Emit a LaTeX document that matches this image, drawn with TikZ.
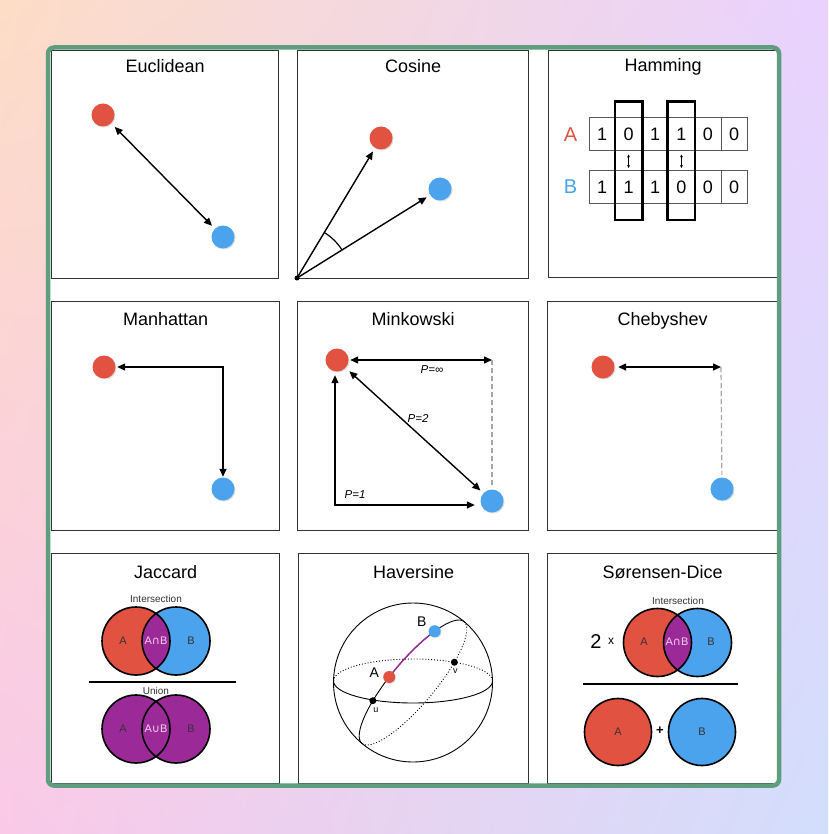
\documentclass[tikz,border=0pt]{standalone}
\usepackage{fontspec}
\setmainfont{Liberation Sans}
\newfontfamily\symfont{DejaVu Sans}
\usetikzlibrary{arrows.meta,positioning,calc,fit,shadows,shadings}
\definecolor{ptred}{HTML}{E25241}
\definecolor{ptblue}{HTML}{4AA3EC}
\definecolor{ptpurple}{HTML}{9B2A98}
\definecolor{ptpink}{HTML}{F6D2F2}
\definecolor{ptgreen}{HTML}{5E9E7E}
\definecolor{bgtl}{HTML}{FDDDC6}
\definecolor{bgtr}{HTML}{E9D2FE}
\definecolor{bgbl}{HTML}{FAC9E8}
\definecolor{bgbr}{HTML}{D2DEFC}
\newcommand{\ptsize}[1]{\fontsize{#1}{#1}\selectfont}
\tikzset{
  panelbox/.style={draw=black!80, line width=1.2pt, fill=white, anchor=north west, inner sep=0pt},
  ttl/.style={font=\ptsize{18}, anchor=base},
  reddot/.style={circle, fill=ptred, minimum size=23pt, inner sep=0pt,
                 drop shadow={shadow xshift=1pt, shadow yshift=-1pt, opacity=.25}},
  bluedot/.style={reddot, fill=ptblue},
  arr/.style={{Triangle[length=8pt,width=7pt]}-{Triangle[length=8pt,width=7pt]}, line width=1.4pt},
  onearr/.style={-{Triangle[length=8pt,width=7pt]}, line width=1.4pt},
  dashln/.style={draw=black!35, line width=1.2pt, dash pattern=on 5pt off 3pt},
  plbl/.style={font=\ptsize{11.5}\itshape},
  cellbox/.style={draw=black!65, line width=1pt, minimum width=26.4pt, minimum height=33pt,
                  inner sep=0pt, font=\ptsize{18}},
  colbox/.style={draw, line width=2.6pt, inner xsep=0pt, inner ysep=16pt},
  tinyarr/.style={{Stealth[length=3pt,width=3pt]}-{Stealth[length=3pt,width=3pt]}, line width=.7pt},
  vring/.style={draw=black, line width=1.6pt},
  vtxt/.style={font=\ptsize{11}, text=black!80},
  vmid/.style={font=\ptsize{11}, text=ptpink},
  vcap/.style={font=\ptsize{10}, text=black!80},
  sph/.style={line width=.9pt},
  hdot/.style={circle, minimum size=12pt, inner sep=0pt,
               drop shadow={shadow xshift=.8pt, shadow yshift=-.8pt, opacity=.25}},
  ptdot/.style={circle, fill=black, minimum size=7pt, inner sep=0pt}}

\begin{document}
\begin{tikzpicture}[x=1pt,y=-1pt]
  \useasboundingbox (0,0) rectangle (828,834);
  \shade[upper left=bgtl, upper right=bgtr, lower left=bgbl, lower right=bgbr] (0,0) rectangle (828,834);
  \fill[white, rounded corners=6pt] (48,47.5) rectangle (779,785.5);

  % panels
  \node[panelbox, minimum width=227pt, minimum height=228pt] (euc)  at (51,50) {};
  \node[panelbox, minimum width=231pt, minimum height=228pt] (cos)  at (297,50) {};
  \node[panelbox, minimum width=229pt, minimum height=227pt] (ham)  at (548,50) {};
  \node[panelbox, minimum width=228pt, minimum height=229pt] (man)  at (51,301) {};
  \node[panelbox, minimum width=231pt, minimum height=229pt] (mink) at (297,301) {};
  \node[panelbox, minimum width=230pt, minimum height=229pt] (cheb) at (547,301) {};
  \node[panelbox, minimum width=228pt, minimum height=230pt] (jac)  at (51,553) {};
  \node[panelbox, minimum width=230pt, minimum height=230pt] (hav)  at (298,553) {};
  \node[panelbox, minimum width=230pt, minimum height=230pt] (dice) at (547,553) {};

  \node[ttl] (euct)  at ($(euc.north)+(0,23)$)  {Euclidean};
  \node[ttl] (cost)  at ($(cos.north)+(0,23)$)  {Cosine};
  \node[ttl] (hamt)  at ($(ham.north)+(0,22)$)  {Hamming};
  \node[ttl] (mant)  at ($(man.north)+(0,24)$)  {Manhattan};
  \node[ttl] (minkt) at ($(mink.north)+(0,24)$) {Minkowski};
  \node[ttl] (chebt) at ($(cheb.north)+(0,24)$) {Chebyshev};
  \node[ttl] (jact)  at ($(jac.north)+(0,25)$)  {Jaccard};
  \node[ttl] (havt)  at ($(hav.north)+(0,25)$)  {Haversine};
  \node[ttl] (dicet) at ($(dice.north)+(0,25)$) {Sørensen-Dice};

  % Euclidean
  \node[reddot] (e1) at (103,115) {};
  \node[bluedot] (e2) at (223,237) {};
  \draw[arr, shorten <=5pt, shorten >=4pt] (e1) -- (e2);

  % Cosine
  \coordinate (o) at (297,278);
  \node[reddot] (c1) at (381,138) {};
  \node[bluedot] (c2) at (440,189) {};
  \draw[onearr, shorten >=4pt] (o) -- (c1);
  \draw[onearr, shorten >=4pt] (o) -- (c2);
  \draw[line width=1.2pt] ($(o)+(-32:53)$) arc[start angle=-32, end angle=-59, radius=53];
  \fill (o) circle (2.5);

  % Hamming
  \foreach \v [count=\i] in {1,0,1,1,0,0}
    \node[cellbox] (ha\i) at ({589+26.4*(\i-0.5)},134.5) {\v};
  \foreach \v [count=\i] in {1,1,1,0,0,0}
    \node[cellbox] (hb\i) at ({589+26.4*(\i-0.5)},187) {\v};
  \node[font=\ptsize{20}, text=ptred, inner sep=1pt, left=10pt of ha1] (hla) {A};
  \node[font=\ptsize{20}, text=ptblue, inner sep=1pt, left=10pt of hb1] (hlb) {B};
  \node[colbox, fit=(ha2)(hb2)] (hc2) {};
  \node[colbox, fit=(ha4)(hb4)] (hc4) {};
  \draw[tinyarr, shorten <=3pt, shorten >=2pt] (ha2) -- (hb2);
  \draw[tinyarr, shorten <=3pt, shorten >=2pt] (ha4) -- (hb4);

  % Manhattan
  \node[reddot] (m1) at (104,367) {};
  \node[bluedot] (m2) at (223,489) {};
  \draw[arr, shorten <=1.5pt, shorten >=.5pt] (m1) -| (m2);

  % Minkowski
  \node[reddot] (k1) at (337,360) {};
  \node[bluedot] (k2) at (492,501) {};
  \coordinate (k3) at (492,360);
  \draw[arr, shorten <=1.5pt] (k1) -- (k3);
  \draw[dashln, shorten >=2pt] (k3) -- (k2);
  \draw[arr, shorten <=5pt, shorten >=4pt] (k1) -- (k2);
  \draw[arr] ([xshift=-2pt,yshift=-3.5pt]k1.south) |- ([xshift=-5.5pt,yshift=-4pt]k2.west);
  \node[plbl] (pinf) at (432,370) {P=∞};
  \node[plbl] (p2) at (418,418) {P=2};
  \node[plbl] (p1) at (355,495) {P=1};

  % Chebyshev
  \node[reddot] (h1) at (603,367) {};
  \node[bluedot] (h2) at (722,489) {};
  \coordinate (h3) at (721,367);
  \draw[arr, shorten <=3.5pt] (h1) -- (h3);
  \draw[dashln, shorten >=2.5pt] (h3) -- (h2);

  % Jaccard
  \coordinate (jA) at (136,641);
  \coordinate (jB) at (176,641);
  \coordinate (uA) at (136,729);
  \coordinate (uB) at (176,729);
  \fill[ptred] (jA) circle (34);
  \fill[ptblue] (jB) circle (34);
  \begin{scope}
    \clip (jA) circle (34);
    \fill[ptpurple] (jB) circle (34);
  \end{scope}
  \draw[vring] (jA) circle (34) (jB) circle (34);
  \fill[ptpurple] (uA) circle (34) (uB) circle (34);
  \draw[vring] (uA) circle (34) (uB) circle (34);
  \node[vcap] (jint) at (156,599) {Intersection};
  \node[vtxt] (jla) at ($(jA)+(-13,0)$) {A};
  \node[vtxt] (jlb) at ($(jB)+(15,0)$) {B};
  \node[vmid] (jlab) at (156,641) {A{\symfont ∩}B};
  \coordinate (jbar1) at (89,682);
  \coordinate (jbar2) at (236,682);
  \draw[line width=1.5pt] (jbar1) -- (jbar2);
  \node[vcap] (juni) at (156,691) {Union};
  \node[vtxt] (ula) at ($(uA)+(-13,0)$) {A};
  \node[vtxt] (ulb) at ($(uB)+(15,0)$) {B};
  \node[vmid] (ulab) at (156,729) {A{\symfont ∪}B};

  % Haversine
  \begin{scope}[shift={(413,682.5)}]
    \draw[sph] (0,0) circle (79.5);
    \draw[sph] (79.5,-1.5) arc[start angle=0, end angle=180, x radius=79.5, y radius=22];
    \draw[sph, dotted] (-79.5,-1.5) arc[start angle=180, end angle=360, x radius=79.5, y radius=22];
    \begin{scope}[rotate=50]
      \draw[sph] (-79.5,0) arc[start angle=180, end angle=360, x radius=79.5, y radius=22];
      \draw[sph, dotted] (79.5,0) arc[start angle=0, end angle=180, x radius=79.5, y radius=22];
      \draw[ptpurple, line width=1.3pt] (262:79.5 and 22) arc[start angle=262, end angle=312, x radius=79.5, y radius=22];
      \node[hdot, fill=ptred] (hA) at (262:79.5 and 22) {};
      \node[hdot, fill=ptblue] (hB) at (312:79.5 and 22) {};
      \node[ptdot] (hu) at (240:79.5 and 22) {};
      \node[ptdot] (hv) at (58:79.5 and 22) {};
    \end{scope}
  \end{scope}
  \node[font=\ptsize{14}] (hAl) at ($(hA)+(-15,-4)$) {A};
  \node[font=\ptsize{14}] (hBl) at ($(hB)+(-13,-10)$) {B};
  \node[font=\ptsize{9}] (hul) at ($(hu)+(3,9)$) {u};
  \node[font=\ptsize{9}] (hvl) at ($(hv)+(1,9)$) {v};

  % Sorensen-Dice
  \coordinate (dA) at (657.5,642.5);
  \coordinate (dB) at (697.5,642.5);
  \coordinate (sA) at (618,732);
  \coordinate (sB) at (702,732);
  \fill[ptred] (dA) circle (34);
  \fill[ptblue] (dB) circle (34);
  \begin{scope}
    \clip (dA) circle (34);
    \fill[ptpurple] (dB) circle (34);
  \end{scope}
  \draw[vring] (dA) circle (34) (dB) circle (34);
  \node[vcap] (dint) at (678,601) {Intersection};
  \node[font=\ptsize{20}] (dtwo) at (596,642) {2};
  \node[font=\ptsize{12}] (dx) at (611,641) {x};
  \node[vtxt] (dla) at (644,642) {A};
  \node[vmid] (dlab) at (677,642) {A{\symfont ∩}B};
  \node[vtxt] (dlb) at (711,642) {B};
  \coordinate (dbar1) at (583,684);
  \coordinate (dbar2) at (738,684);
  \draw[line width=1.5pt] (dbar1) -- (dbar2);
  \fill[ptred] (sA) circle (33.5);
  \fill[ptblue] (sB) circle (33.5);
  \draw[vring] (sA) circle (33.5) (sB) circle (33.5);
  \node[vtxt] (sla) at (sA) {A};
  \node[vtxt] (slb) at (sB) {B};
  \node[font=\ptsize{13}\bfseries] (splus) at (660,731) {+};

  % frame
  \draw[ptgreen, line width=4.5pt, rounded corners=6pt] (48,47.5) rectangle (779,785.5);
\end{tikzpicture}
\end{document}
